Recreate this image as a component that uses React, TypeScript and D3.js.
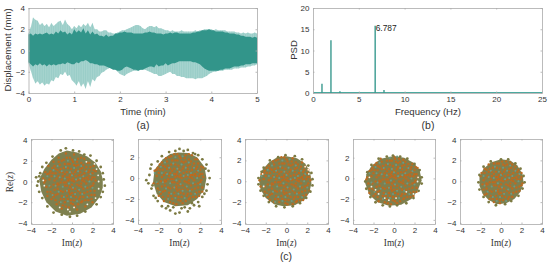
import * as d3 from "d3";
import React, { useEffect, useRef } from "react";

type Pt = [number, number];

// (a) displacement envelopes, read every 0.05 min
const lightTop = [
    1.6,2.2,3.1,2.9,2.8,2.4,2.6,2.3,2.5,2.2,
    2.6,2.3,2.5,2.7,2.8,2.4,2.9,2.5,2.3,2.0,
    2.3,2.1,2.4,2.2,2.5,2.3,2.6,2.2,2.6,2.0,
    2.0,1.8,1.8,1.9,1.9,1.7,1.7,1.6,1.6,1.7,
    1.8,1.9,1.9,2.0,2.1,2.2,2.3,2.4,2.4,2.3,
    2.1,2.0,2.2,2.3,2.3,2.2,2.3,2.1,2.1,2.0,
    1.9,1.9,1.8,1.9,1.8,1.8,1.8,1.9,1.8,1.8,
    1.8,1.8,1.8,1.9,1.8,1.9,1.9,2.0,2.0,2.0,
    2.0,1.9,2.0,1.9,1.9,1.9,1.9,1.8,1.8,1.8,
    1.8,1.7,1.7,1.6,1.7,1.6,1.7,1.6,1.6,1.7,
    1.6];
const darkTop = [
    1.5,1.6,1.4,1.6,1.5,1.6,1.5,1.6,1.7,1.5,
    1.6,1.5,1.8,1.6,1.9,1.7,1.8,1.5,1.7,1.5,
    2.0,1.7,1.9,1.7,2.1,1.6,1.9,1.5,1.8,1.5,
    1.6,1.4,1.4,1.3,1.5,1.3,1.4,1.4,1.6,1.6,
    1.7,1.7,1.8,1.7,1.7,1.7,1.6,1.6,1.6,1.6,
    1.6,1.7,1.7,1.8,1.7,1.7,1.6,1.6,1.6,1.5,
    1.6,1.6,1.7,1.6,1.7,1.7,1.6,1.6,1.6,1.6,
    1.6,1.6,1.7,1.7,1.8,1.8,1.9,1.9,1.9,2.0,
    1.9,1.9,1.8,1.8,1.8,1.8,1.7,1.7,1.6,1.6,
    1.6,1.5,1.5,1.4,1.4,1.3,1.3,1.3,1.2,1.3,
    1.2];
const lightBottom = [
    -1.2,-1.9,-2.6,-3.1,-2.9,-3.2,-3.0,-3.3,-3.1,-3.2,
    -2.8,-2.9,-2.5,-2.6,-2.2,-2.3,-2.0,-2.4,-2.3,-2.8,
    -3.0,-3.3,-2.9,-3.4,-3.1,-3.6,-2.9,-3.4,-2.7,-2.9,
    -2.5,-2.4,-2.1,-2.0,-1.8,-1.7,-1.6,-1.6,-1.8,-2.0,
    -2.2,-2.3,-2.4,-2.2,-2.1,-2.0,-1.9,-1.9,-1.9,-1.8,
    -1.8,-1.8,-1.9,-2.0,-2.1,-2.2,-2.2,-2.4,-2.4,-2.3,
    -2.2,-2.1,-2.0,-2.2,-2.2,-2.4,-2.4,-2.5,-2.5,-2.6,
    -2.6,-2.6,-2.6,-2.7,-2.6,-2.6,-2.6,-2.5,-2.4,-2.2,
    -2.1,-2.0,-2.0,-1.9,-1.9,-1.9,-1.8,-1.8,-1.8,-1.8,
    -1.7,-1.7,-1.7,-1.6,-1.6,-1.6,-1.5,-1.5,-1.4,-1.4,
    -1.3];
const darkBottom = [
    -1.1,-1.3,-1.5,-1.3,-1.4,-1.2,-1.4,-1.3,-1.5,-1.3,
    -1.4,-1.3,-1.4,-1.3,-1.3,-1.2,-1.3,-1.1,-1.2,-1.3,
    -1.3,-1.1,-1.2,-1.0,-1.0,-0.9,-1.0,-1.2,-1.2,-1.3,
    -1.3,-1.4,-1.4,-1.4,-1.5,-1.6,-1.7,-1.8,-1.8,-1.9,
    -1.9,-1.8,-1.6,-1.5,-1.6,-1.7,-1.8,-1.8,-1.9,-1.8,
    -1.8,-1.7,-1.6,-1.5,-1.5,-1.6,-1.3,-1.5,-1.4,-1.4,
    -1.2,-1.4,-1.3,-1.2,-1.2,-1.1,-1.0,-1.0,-1.0,-1.0,
    -1.0,-1.0,-1.1,-1.1,-1.2,-1.3,-1.5,-1.7,-1.8,-1.9,
    -1.9,-1.9,-1.9,-1.9,-1.8,-1.8,-1.7,-1.7,-1.7,-1.6,
    -1.5,-1.5,-1.5,-1.4,-1.4,-1.3,-1.3,-1.3,-1.2,-1.2,
    -1.2];

// (b) spectrum peaks
const peakFreq = [0.98,1.96,2.94,6.787,7.75];
const peakPsd = [2.2,12.4,0.4,15.8,0.7];

// (c) dense region outline for each phase portrait
const outline1: Pt[] = [[-0.5,3],[0.5,2.8],[1.5,2.4],[2.3,1.8],[2.8,1],[3,0.2],[3,-0.6],[2.7,-1.5],[1.9,-2.5],[0.8,-3.1],[-0.5,-3.3],[-1.6,-2.9],[-2.5,-2],[-3,-1],[-3.2,0.2],[-2.7,1.2],[-2,2.1],[-1.3,2.7]];
const outline2: Pt[] = [[-0.1,2.45],[0.8,2.4],[1.7,2],[2.4,1.1],[2.6,0],[2.4,-1.1],[1.7,-2],[0.8,-2.6],[-0.4,-2.7],[-1.5,-2.3],[-2.2,-1.5],[-2.55,-0.4],[-2.4,0.8],[-1.6,1.8],[-0.9,2.3]];
const outline3: Pt[] = [[0,2.4],[1,2.2],[1.8,1.7],[2.3,0.8],[2.4,-0.2],[2.2,-1.1],[1.7,-1.8],[0.8,-2.3],[-0.3,-2.4],[-1.2,-2.2],[-2,-1.6],[-2.5,-0.8],[-2.65,0.1],[-2.4,1],[-1.7,1.8],[-0.9,2.3]];
const outline4: Pt[] = [[0,2.15],[1,2],[1.9,1.5],[2.5,0.8],[2.7,-0.2],[2.3,-1.2],[1.7,-2],[0.7,-2.55],[-0.5,-2.65],[-1.6,-2.3],[-2.4,-1.6],[-2.8,-0.5],[-2.7,0.4],[-2.2,1.2],[-1.3,1.9]];
const outline5: Pt[] = [[0,2.1],[0.9,2],[1.6,1.5],[2.1,0.7],[2.2,-0.1],[1.9,-1],[1.3,-1.7],[0.5,-2.1],[-0.4,-2.2],[-1.2,-1.8],[-1.8,-1.2],[-2.1,-0.4],[-2.1,0.4],[-1.7,1.2],[-1,1.8]];

// (c) loose points around the dense region
const loose1: Pt[] = [[-0.6,3.2],[-1.1,3],[0.1,3],[0.7,2.9],[1.2,2.6],[1.8,2.5],[2.4,2],[2.8,1.4],[3,0.8],[3.1,0.2],[3.2,-0.4],[3,-1],[2.8,-1.5],[2.4,-2.2],[1.3,-2.9],[0.5,-3.3],[-0.2,-3.4],[-1,-3.2],[-1.8,-3],[-2.4,-2.4],[-2.9,-1.6],[-3.2,-1],[-3.4,-0.4],[-3.5,0.4],[-3.1,0.8],[-2.9,1.4],[-2.5,1.8],[-1.9,2.4],[-3.3,0],[-3.2,0.5]];
const loose2: Pt[] = [[0,2.8],[0.4,2.6],[0.8,2.7],[1.3,2.4],[1.8,2.2],[2.2,1.8],[2.6,1.3],[2.8,0.7],[2.9,0],[2.7,-0.6],[2.6,-1.2],[2.2,-1.8],[1.8,-2.3],[1.4,-2.6],[1,-2.9],[0.5,-2.8],[0,-3.3],[-0.4,-3.4],[-0.9,-3.1],[-1.3,-2.9],[-1.7,-2.7],[-2.1,-2.2],[-2.5,-1.7],[-2.7,-1],[-3,-0.5],[-3.2,-0.2],[-2.9,0.3],[-2.8,0.9],[-2.7,1.3],[-2.1,1.6],[-1.7,2.1],[-1,2.5],[-0.4,2.6],[1.9,-2.7],[-0.6,-2.8],[0.8,-3.2],[0.2,-2.9],[-1.1,-2.7],[1.2,-2.4],[-2.3,-1.9],[2.5,0.9],[2.4,-1.5],[1.5,2.3],[-2.6,-0.7]];
const loose3: Pt[] = [[-0.1,2.5],[0.8,2.4],[1.5,2.1],[2.1,1.5],[2.4,0.8],[2.5,0.2],[2.5,-0.4],[2.3,-1],[1.9,-1.6],[1.3,-2.1],[0.6,-2.4],[-0.2,-2.5],[-1,-2.4],[-1.7,-2],[-2.2,-1.4],[-2.5,-0.9],[-2.7,-0.3],[-2.7,0.3],[-2.4,0.9],[-2.2,1.3],[-1.6,2],[-0.8,2.3]];
const loose4: Pt[] = [[-0.1,2.2],[0.6,2.1],[1.3,1.9],[2,1.4],[2.5,0.8],[2.7,0.1],[2.7,-0.5],[2.4,-1.2],[1.9,-1.9],[1.2,-2.4],[0.3,-2.6],[-0.4,-2.7],[-1.1,-2.6],[-1.8,-2.3],[-2.3,-1.8],[-2.7,-1],[-2.8,-0.3],[-2.6,0.6],[-2.2,1.3],[-1.5,1.9],[-0.7,2.1]];
const loose5: Pt[] = [[0,2.1],[0.7,2.1],[1.4,1.7],[1.9,1.2],[2.2,0.5],[2.3,-0.1],[2.1,-0.7],[1.7,-1.4],[1,-1.9],[0.4,-2.2],[-0.5,-2.3],[-1.2,-2],[-1.7,-1.5],[-2.1,-0.8],[-2.2,-0.1],[-2.1,0.6],[-1.7,1.4],[-1,1.9]];

// white gaps left between points near the rim
const gaps1: Pt[] = [[2.4,1.2],[2.55,0.6],[2.6,0],[2.6,-0.7],[2.2,1.7],[-2.7,-0.4],[-2.8,0.1],[-0.4,-2.7],[0.2,-2.5],[-1.2,-2.5],[1.5,-2.2],[-0.2,-2.9],[2.3,-1.6],[1.4,1.9]];
const gaps2: Pt[] = [];
const gaps3: Pt[] = [[2.1,1.1],[2.15,0.7],[1.8,1.4],[-2.2,-0.5],[-2.3,0.7]];
const gaps4: Pt[] = [[-2.2,-0.8],[-1.8,-1.1],[-1.5,-1.5],[-0.9,-1.9],[-0.5,-2.1],[0.2,-1.9],[1.2,-1.3],[1.9,-1.5],[2.3,-0.3],[2.35,0.1],[-2.4,0.1]];
const gaps5: Pt[] = [];

const panelOutlines = [outline1, outline2, outline3, outline4, outline5];
const panelLoose = [loose1, loose2, loose3, loose4, loose5];
const panelGaps = [gaps1, gaps2, gaps3, gaps4, gaps5];

// orange and green markers inside the discs
const orangeDots: Pt[] = [[-2.8,0.3],[-2.5,-0.5],[-2.6,0.9],[-2.3,1.5],[-2.2,0.2],[-2.1,-1],[-2,-1.7],[-1.9,0.8],[-1.8,-0.3],[-1.8,1.9],[-1.6,1.2],[-1.6,-1.3],[-1.5,0.3],[-1.5,-2.2],[-1.4,-0.7],[-1.3,2.3],[-1.2,0.9],[-1.2,1.6],[-1.1,-0.1],[-1.1,-1.7],[-1,-2.6],[-0.9,0.5],[-0.9,-1],[-0.8,1.3],[-0.8,2.1],[-0.7,-0.4],[-0.7,-2],[-0.6,2.7],[-0.5,0.9],[-0.5,-1.4],[-0.4,0.1],[-0.4,1.7],[-0.3,-0.8],[-0.3,-2.5],[-0.2,2.3],[-0.2,0.6],[-0.1,-1.8],[-0.1,1.2],[0,-0.3],[0,-1.1],[0.1,0.3],[0.1,1.9],[0.1,-2.2],[0.2,2.6],[0.3,0.9],[0.3,-0.7],[0.4,-1.5],[0.4,1.5],[0.5,-2.7],[0.5,0.1],[0.6,2.2],[0.7,-0.4],[0.7,0.6],[0.8,-1.1],[0.8,1.2],[0.9,-2],[0.9,1.8],[1,0.1],[1.1,-0.7],[1.1,-1.5],[1.2,0.8],[1.2,2.2],[1.3,-2.4],[1.4,1.4],[1.4,-0.2],[1.5,-1],[1.5,0.4],[1.6,-1.8],[1.7,1.1],[1.7,1.8],[1.8,-0.5],[1.9,0.2],[1.9,-1.3],[2,0.8],[2,-2],[2.1,-0.2],[2.1,1.5],[2.2,-0.9],[2.2,0.4],[2.3,1],[-2.4,-1.4],[-1.7,-0.8],[-1,0.2],[-0.6,-0.1],[0.6,1.6],[1,1.3],[-1.3,-0.3],[0.2,-1.8],[-0.2,-1.2],[1.3,0.3],[-2.7,-0.1],[-1.9,1.3],[-0.9,-2.3],[0.7,-1.7],[-0.5,0.4],[0.4,0.5],[-1.4,1.1],[1.6,0.9],[-0.2,0.2],[0.9,-0.2]];
const orangeDots2: Pt[] = [[-2.6,0.1],[-2.4,0.7],[-2.4,-1],[-2.1,-0.5],[-2.1,1],[-2,0.5],[-1.9,-1.2],[-1.7,0.1],[-1.7,1.5],[-1.6,0.8],[-1.6,-1.8],[-1.4,-1.2],[-1.4,-0.2],[-1.3,1.9],[-1.3,0.5],[-1.2,-2],[-1.1,1.2],[-1.1,-0.9],[-1,-1.4],[-1,2],[-0.9,0.9],[-0.8,-0.1],[-0.8,-1.7],[-0.7,0.7],[-0.7,1.7],[-0.6,-0.9],[-0.6,-2.4],[-0.5,2.3],[-0.5,-0.4],[-0.4,1.3],[-0.4,-1.7],[-0.3,0.4],[-0.2,-0.5],[-0.2,1.7],[-0.1,-2.1],[-0.1,0.9],[0,2.1],[0,-0.7],[0.1,-1.4],[0.1,0.7],[0.2,0],[0.2,1.6],[0.3,-2.4],[0.3,-1.1],[0.4,1.1],[0.5,-0.3],[0.5,1.9],[0.6,-0.9],[0.6,-2.2],[0.7,0.2],[0.8,0.9],[0.8,-1.5],[0.9,-0.5],[0.9,2.3],[1,0.6],[1,-1.9],[1.1,1.6],[1.2,-1.1],[1.2,0],[1.3,1.1],[1.3,-1.8],[1.5,1.8],[1.5,-0.6],[1.6,0.2],[1.6,-1.4],[1.7,0.6],[1.8,-0.9],[1.8,1.4],[1.9,-1.7],[2,-0.4],[2,0.4],[2.1,1.1],[2.2,-1.3],[2.3,0.1],[-2.2,0.8],[-1.8,-1.5],[-0.3,-1],[-1.5,-0.4],[1.1,0.3],[0,0.1]];
const greenDots: Pt[] = [[-2.4,0.5],[-2.2,-0.4],[-1.9,-1.3],[-1.7,0.5],[-1.6,-0.4],[-1.4,1.5],[-1.3,-1],[-1.2,0.4],[-1,1],[-0.9,-0.5],[-0.8,-1.5],[-0.7,0.3],[-0.6,1.4],[-0.5,-0.9],[-0.4,2],[-0.3,-0.2],[-0.2,0.9],[-0.1,-1.5],[0,0.6],[0.1,-0.6],[0.2,1.3],[0.3,-1.2],[0.4,0.2],[0.5,-1.9],[0.6,1],[0.7,-0.8],[0.8,0.3],[0.9,1.5],[1,-1.2],[1.1,0.5],[1.3,-0.5],[1.4,1],[1.5,-1.5],[1.7,0],[1.8,0.7],[2,-0.6],[-0.4,-1.9],[-1.1,-2],[0.3,2.1],[-1.8,1.1]];

const ringTicks = [-4, -2, 0, 2, 4];

const BOX = "#a9a9a9";
const TEXT = "#333";
const sans = "'Liberation Sans', Arial, sans-serif";
const serif = "'Liberation Serif', serif";

const App = () => {
    const svgRef = useRef<SVGSVGElement>(null);

    useEffect(() => {
        const svg = d3.select(svgRef.current);
        svg.selectAll("*").remove();

        // the reference is a soft raster, so marks get a slight blur
        svg.append("defs").append("filter").attr("id", "soft")
            .append("feGaussianBlur").attr("stdDeviation", 0.4);

        // boxed axes, ticks pointing inward on all four sides
        const frame = (x: any, y: any, xTicks: number[], yTicks: number[]) => {
            const g = svg.append("g");
            const [x0, x1] = x.range();
            const [y0, y1] = y.range();
            g.append("g").attr("transform", `translate(0,${y0})`)
                .call(d3.axisBottom(x).tickValues(xTicks).tickSizeInner(-1.5).tickSizeOuter(0).tickPadding(3.5).tickFormat(d3.format("d")));
            g.append("g").attr("transform", `translate(0,${y1})`)
                .call(d3.axisTop(x).tickValues(xTicks).tickSizeInner(-1.5).tickSizeOuter(0).tickFormat(() => ""));
            g.append("g").attr("transform", `translate(${x0},0)`)
                .call(d3.axisLeft(y).tickValues(yTicks).tickSizeInner(-1.5).tickSizeOuter(0).tickPadding(3.5).tickFormat(d3.format("d")));
            g.append("g").attr("transform", `translate(${x1},0)`)
                .call(d3.axisRight(y).tickValues(yTicks).tickSizeInner(-1.5).tickSizeOuter(0).tickFormat(() => ""));
            g.selectAll("path, line").attr("stroke", BOX).attr("stroke-width", 0.8);
            g.selectAll("text").attr("fill", TEXT).style("font", `8px ${sans}`);
        };

        const label = (x: number, y: number, s: string, size = 9.6) =>
            svg.append("text").attr("x", x).attr("y", y).attr("text-anchor", "middle")
                .attr("fill", TEXT).style("font", `${size}px ${sans}`).text(s);

        // (a) displacement
        const timeMin = lightTop.map((_, i) => i / 20);
        const xA = d3.scaleLinear().domain([0, 5]).range([28.5, 257]);
        const yA = d3.scaleLinear().domain([-4, 4]).range([93, 8]);
        const band = (top: number[], bottom: number[]) =>
            d3.area<number>().x(d => xA(d)).y0((_, i) => yA(bottom[i])).y1((_, i) => yA(top[i]))(timeMin);
        const wave = svg.append("g").attr("filter", "url(#soft)");
        wave.append("path").attr("d", band(lightTop, lightBottom)).attr("fill", "#a5d3ce");
        wave.selectAll(".stria").data(timeMin).enter().append("line").attr("class", "stria")
            .attr("x1", d => xA(d)).attr("x2", d => xA(d))
            .attr("y1", (_, i) => yA(lightTop[i])).attr("y2", (_, i) => yA(lightBottom[i]))
            .attr("stroke", "#5fb0a7").attr("stroke-width", 0.6).attr("opacity", 0.3);
        wave.append("path").attr("d", band(darkTop, darkBottom)).attr("fill", "#33958a");
        frame(xA, yA, [0, 1, 2, 3, 4, 5], [-4, -2, 0, 2, 4]);
        label(143, 115, "Time (min)");
        label(143, 129, "(a)", 10.5);
        svg.append("text").attr("transform", "translate(11,50) rotate(-90)").attr("text-anchor", "middle")
            .attr("fill", TEXT).style("font", `9.6px ${sans}`).text("Displacement (mm)");

        // (b) PSD
        const xB = d3.scaleLinear().domain([0, 25]).range([313, 542]);
        const yB = d3.scaleLinear().domain([0, 20]).range([93, 8]);
        const spec = svg.append("g").attr("filter", "url(#soft)");
        spec.append("line").attr("x1", xB(0)).attr("x2", xB(25)).attr("y1", yB(0) - 0.5).attr("y2", yB(0) - 0.5)
            .attr("stroke", "#4ea99f").attr("stroke-width", 1.2);
        spec.selectAll(".peak").data(peakFreq).enter().append("line").attr("class", "peak")
            .attr("x1", d => xB(d)).attr("x2", d => xB(d))
            .attr("y1", yB(0)).attr("y2", (_, i) => yB(peakPsd[i]))
            .attr("stroke", "#3a9a8f").attr("stroke-width", 1.4);
        frame(xB, yB, [0, 5, 10, 15, 20, 25], [0, 5, 10, 15, 20]);
        svg.append("text").attr("x", xB(6.787) + 0.5).attr("y", yB(16) + 6)
            .attr("fill", "#222").style("font", `8.4px ${sans}`).text("6.787");
        label(428, 115, "Frequency (Hz)");
        label(428, 129, "(b)", 10.5);
        svg.append("text").attr("transform", "translate(297,50) rotate(-90)").attr("text-anchor", "middle")
            .attr("fill", TEXT).style("font", `9.6px ${sans}`).text("PSD");

        // (c) phase portraits
        const panelX = [[31, 113], [138, 221], [245, 328], [353, 435], [460, 542]];
        const panelY = [[-4.1, 4.1], [-4.4, 3.75], [-4.1, 4.05], [-4.4, 3.8], [-4.1, 4.05]];
        panelX.forEach((rx, p) => {
            const x = d3.scaleLinear().domain([-4, 4]).range(rx);
            const y = d3.scaleLinear().domain(panelY[p]).range([224, 139]);
            const outline = panelOutlines[p];
            const g = svg.append("g").attr("filter", "url(#soft)");
            const draw = (pts: Pt[], fill: string, r: number) =>
                g.append("g").selectAll("circle").data(pts).enter().append("circle")
                    .attr("cx", d => x(d[0])).attr("cy", d => y(d[1])).attr("r", r).attr("fill", fill);

            g.append("path")
                .attr("d", d3.line<Pt>().x(d => x(d[0])).y(d => y(d[1])).curve(d3.curveLinearClosed)(outline))
                .attr("fill", "#7e8050");
            draw(orangeDots.filter(d => d3.polygonContains(outline, d)), "#bd6a20", 1.2);
            draw(orangeDots2.filter(d => d3.polygonContains(outline, d)), "#bd6a20", 1.2);
            draw(greenDots.filter(d => d3.polygonContains(outline, d)), "#6c9a85", 1);
            draw(panelGaps[p], "#f6f2e8", 0.9);
            draw(panelLoose[p], "#7c7a42", 1.4);

            frame(x, y, ringTicks, ringTicks.filter(t => t >= panelY[p][0] && t <= panelY[p][1]));

            const imz = svg.append("text").attr("x", (rx[0] + rx[1]) / 2).attr("y", 246).attr("text-anchor", "middle")
                .attr("fill", TEXT).style("font", `9.4px ${serif}`);
            imz.append("tspan").text("Im(");
            imz.append("tspan").style("font-style", "italic").text("z");
            imz.append("tspan").text(")");
        });
        const rez = svg.append("text").attr("transform", "translate(13,182) rotate(-90)").attr("text-anchor", "middle")
            .attr("fill", TEXT).style("font", `9.4px ${serif}`);
        rez.append("tspan").text("Re(");
        rez.append("tspan").style("font-style", "italic").text("z");
        rez.append("tspan").text(")");
        label(286, 260, "(c)", 10.5);
    }, []);

    return <svg ref={svgRef} width={550} height={264} style={{ position: "absolute", left: 0, top: 0, background: "#fff" }} />;
};

export default App;
